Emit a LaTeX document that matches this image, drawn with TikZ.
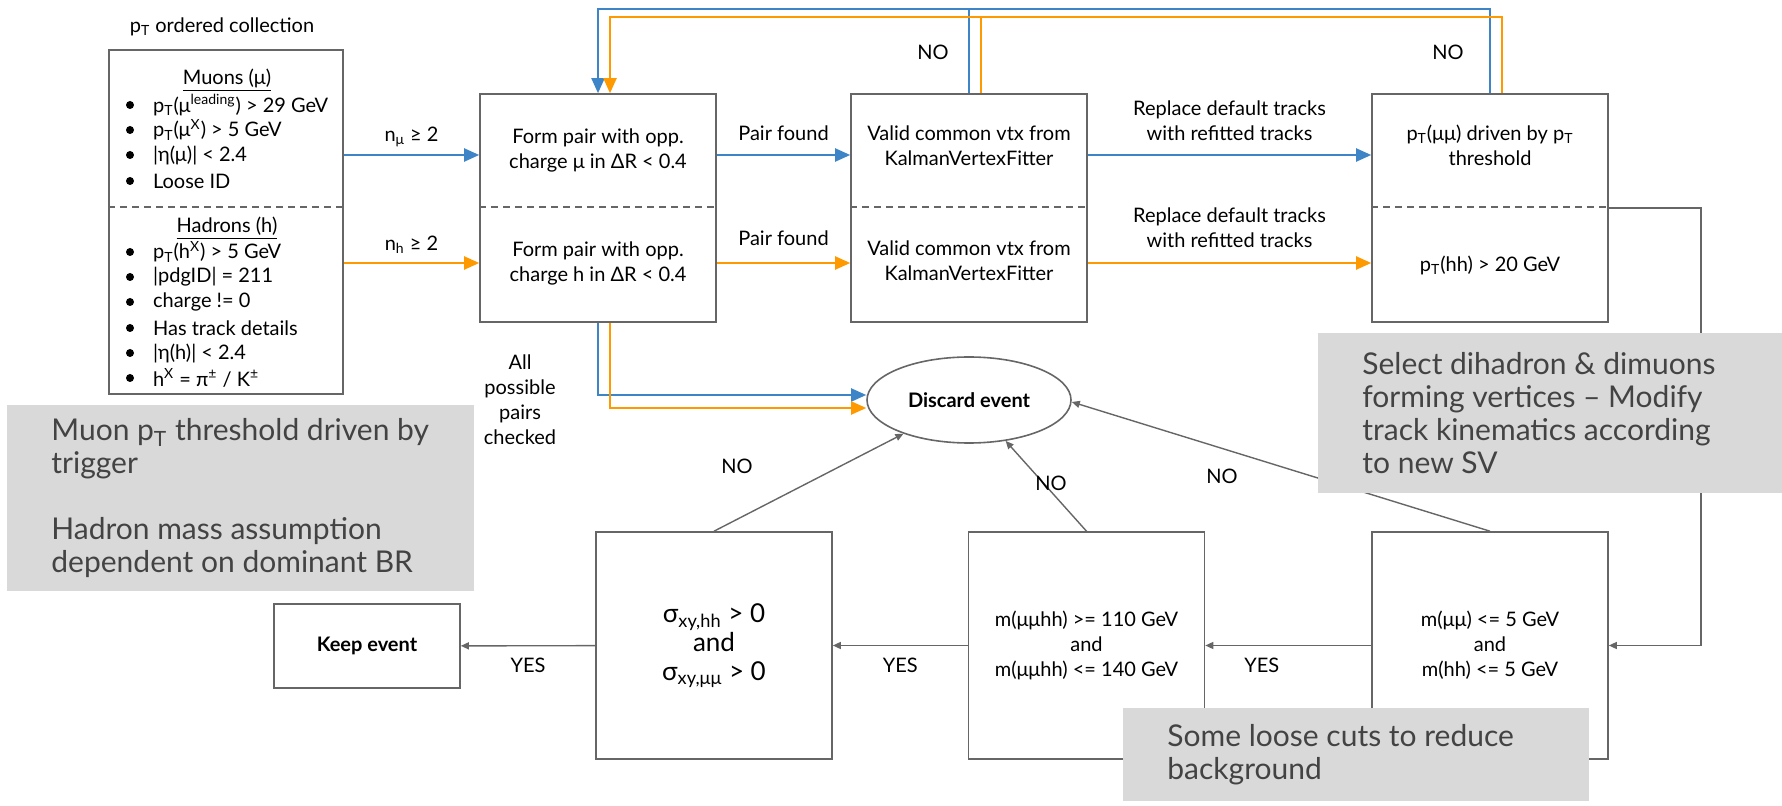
\documentclass[tikz,border=0pt]{standalone}
\usepackage{fontspec}
\setmainfont{Lato}
\usetikzlibrary{arrows.meta,shapes.geometric}

\definecolor{mublue}{HTML}{3D85C6}
\definecolor{horange}{HTML}{FF9900}
\definecolor{boxgray}{HTML}{666666}
\definecolor{notegray}{HTML}{D9D9D9}
\definecolor{notetext}{HTML}{434343}

\begin{document}
\begin{tikzpicture}[x=0.5pt,y=-0.5pt,
  font=\fontsize{10}{12.5}\selectfont,
  box/.style={draw=boxgray, line width=0.8pt, minimum width=118pt, minimum height=114pt, align=center},
  cut/.style={draw=boxgray, dash pattern=on 3.5pt off 2.5pt, line width=0.7pt},
  mu/.style={mublue, line width=1pt, -{Triangle[length=7.5pt,width=6.5pt]}},
  had/.style={horange, line width=1pt, -{Triangle[length=7.5pt,width=6.5pt]}},
  flow/.style={boxgray, line width=0.7pt, -{Triangle[length=4pt,width=3.5pt]}},
  note/.style={fill=notegray, inner sep=0pt},
  notetext/.style={text=notetext, align=left, font=\fontsize{15}{16.5}\selectfont, inner sep=0pt},
  lbl/.style={align=center}]
\useasboundingbox (0,0) rectangle (1782,806);

% heights of the split line and of the two rows of arrows
\coordinate (split) at (0,207);
\coordinate (mu) at (0,155);
\coordinate (had) at (0,263);
\coordinate (loopmu) at (0,9);
\coordinate (looph) at (0,17);

% input collection
\node (colltitle) at (222,27) {p\textsubscript{T} ordered collection};
\node[box, minimum width=117pt, minimum height=172pt] (coll) at (226,222) {};
\node (mutitle) at (227,80) {\underline{Muons (μ)}};
\node (htitle) at (227,228) {\underline{Hadrons (h)}};
\foreach \y/\t [count=\i] in {105/{p\textsubscript{T}(μ\textsuperscript{leading}) > 29 GeV},
    130/{p\textsubscript{T}(μ\textsuperscript{X}) > 5 GeV}, 155/{|η(μ)| < 2.4}, 181/{Loose ID},
    252/{p\textsubscript{T}(h\textsuperscript{X}) > 5 GeV}, 277/{|pdgID| = 211}, 302/{charge != 0},
    328/{Has track details}, 353/{|η(h)| < 2.4}, 378/{h\textsuperscript{X} = π\textsuperscript{±} / K\textsuperscript{±}}}
{
  \fill (130,\y) circle (2pt);
  \node[anchor=west] (item\i) at (146,\y) {\t};
}

% pairing, vertex fit and pT cut
\node[box] (pair) at (598,208) {};
\node[lbl] (pairmu) at (598,150) {Form pair with opp.\\charge μ in ΔR < 0.4};
\node[lbl] (pairh) at (598,263) {Form pair with opp.\\charge h in ΔR < 0.4};
\node[box] (vtx) at (969,208) {};
\node[lbl] (vtxmu) at (969,146) {Valid common vtx from\\KalmanVertexFitter};
\node[lbl] (vtxh) at (969,261) {Valid common vtx from\\KalmanVertexFitter};
\node[box] (ptcut) at (1490,208) {};
\node[lbl] (ptcutmu) at (1490,145) {p\textsubscript{T}(μμ) driven by p\textsubscript{T}\\threshold};
\node[lbl] (ptcuth) at (1490,265) {p\textsubscript{T}(hh) > 20 GeV};
\foreach \b in {coll,pair,vtx,ptcut}
  \draw[cut] (\b.west |- split) -- (\b.east |- split);

\draw[mu] (coll.east |- mu) -- node[midway, yshift=9pt, black] {n\textsubscript{μ} ≥ 2} (pair.west |- mu);
\draw[had] (coll.east |- had) -- node[midway, yshift=9pt, black] {n\textsubscript{h} ≥ 2} (pair.west |- had);
\draw[mu] (pair.east |- mu) -- node[midway, yshift=11pt, black] {Pair found} (vtx.west |- mu);
\draw[had] (pair.east |- had) -- node[midway, yshift=12.5pt, black] {Pair found} (vtx.west |- had);
\draw[mu] (vtx.east |- mu) -- node[midway, yshift=17pt, black, lbl] {Replace default tracks\\with refitted tracks} (ptcut.west |- mu);
\draw[had] (vtx.east |- had) -- node[midway, yshift=17.5pt, black, lbl] {Replace default tracks\\with refitted tracks} (ptcut.west |- had);

% failures go back to the pairing step
\path ([xshift=6pt]pair.north) coordinate (pairtop)
      ([xshift=6pt]vtx.north) coordinate (vtxtop)
      ([xshift=6pt]ptcut.north) coordinate (cuttop)
      ([xshift=6pt]pair.south) coordinate (pairbot);
\draw[mu] (ptcut.north) |- (pair.north |- loopmu) -- (pair.north);
\draw[mu, -] (vtx.north) -- (vtx.north |- loopmu);
\draw[had] (cuttop) |- (pairtop |- looph) -- (pairtop);
\draw[had, -] (vtxtop) -- (vtxtop |- looph);
\node (no1) at (933,52) {NO};
\node (no2) at (1448,52) {NO};

% discard
\node[ellipse, draw=boxgray, line width=0.8pt, minimum width=102pt, minimum height=43pt, font=\bfseries] (discard) at (969,400) {Discard event};
\node[lbl] (allpairs) at (520,400) {All\\possible\\pairs\\checked};
\draw[mu] (pair.south) |- ([yshift=2.5pt]discard.west);
\draw[had] (pairbot) |- ([yshift=-4pt]discard.west);

% final selection
\node[box, minimum height=113.5pt, font=\fontsize{13}{14.5}\selectfont] (sig) at (714,645.5)
  {σ\textsubscript{xy,hh} > 0\\and\\σ\textsubscript{xy,μμ} > 0};
\node[box, minimum height=113.5pt] (mass) at (1086.5,645.5)
  {m(μμhh) >= 110 GeV\\and\\m(μμhh) <= 140 GeV};
\node[box, minimum height=113.5pt] (lowm) at (1490,645.5)
  {m(μμ) <= 5 GeV\\and\\m(hh) <= 5 GeV};
\node[draw=boxgray, line width=0.8pt, minimum width=93pt, minimum height=42pt, font=\bfseries] (keep) at (367,646) {Keep event};

\draw[flow] (ptcut.east) -- ++(92,0) |- (lowm.east);
\draw[flow] (lowm) -- node[pos=0.66, yshift=-10pt, black] {YES} (mass);
\draw[flow] (mass) -- node[midway, yshift=-10pt, black] {YES} (sig);
\draw[flow] (sig) -- node[midway, yshift=-10pt, black] {YES} (keep);
\draw[flow] (sig.north) -- (discard);
\draw[flow] (mass.north) -- (discard);
\draw[flow] (lowm.north) -- ([yshift=-1pt]discard.east);
\node (no3) at (737,466) {NO};
\node (no4) at (1051,483) {NO};
\node (no5) at (1222,476) {NO};

% side notes
\node[note, minimum width=233.5pt, minimum height=93pt, anchor=north west] (trignote) at (7,405) {};
\node[notetext, anchor=west] (trigtext) at ([xshift=22pt]trignote.west)
  {Muon p\textsubscript{T} threshold driven by\\trigger\\[16.5pt]Hadron mass assumption\\dependent on dominant BR};
\node[note, minimum width=232pt, minimum height=80pt, anchor=north west] (svnote) at (1318,333) {};
\node[notetext, anchor=west] (svtext) at ([xshift=22pt]svnote.west)
  {Select dihadron \& dimuons\\forming vertices – Modify\\track kinematics according\\to new SV};
\node[note, minimum width=233pt, minimum height=46.5pt, anchor=north west] (cutnote) at (1123,708) {};
\node[notetext, anchor=west] (cuttext) at ([xshift=22pt]cutnote.west)
  {Some loose cuts to reduce\\background};
\end{tikzpicture}
\end{document}
